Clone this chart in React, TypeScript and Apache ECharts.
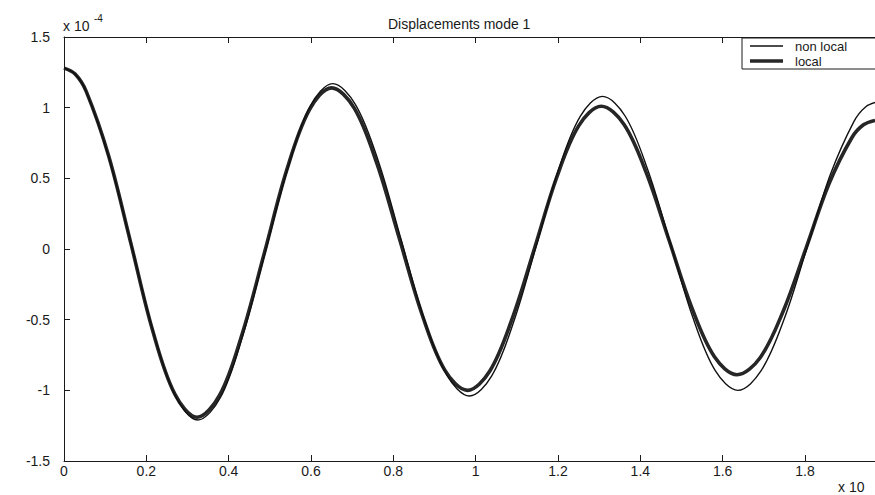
import React, { useEffect, useRef } from "react";
import * as echarts from "echarts";

// Displacement (x 10^-4) against position (x 10^?) for mode 1
const nonLocalX = [
  0, 0.027, 0.054, 0.108, 0.163, 0.217, 0.271, 0.325,
  0.38, 0.434, 0.489, 0.544, 0.598, 0.653,
  0.708, 0.764, 0.819, 0.874, 0.93, 0.985,
  1.039, 1.093, 1.147, 1.2, 1.254, 1.308,
  1.363, 1.418, 1.473, 1.527, 1.582, 1.637,
  1.693, 1.75, 1.806, 1.862, 1.919, 1.947, 1.975,
];
const nonLocalY = [
  1.28, 1.238, 1.113, 0.658, 0.035, -0.588, -1.043, -1.21,
  -1.051, -0.615, -0.02, 0.575, 1.011, 1.17,
  1.022, 0.618, 0.065, -0.488, -0.892, -1.04,
  -0.898, -0.51, 0.02, 0.55, 0.938, 1.08,
  0.941, 0.56, 0.04, -0.48, -0.861, -1.0,
  -0.863, -0.49, 0.02, 0.53, 0.903, 1.005, 1.04,
];

const localX = [
  0, 0.027, 0.054, 0.108, 0.162, 0.215, 0.269, 0.323,
  0.378, 0.432, 0.487, 0.541, 0.596, 0.65,
  0.705, 0.76, 0.815, 0.87, 0.925, 0.98,
  1.034, 1.088, 1.143, 1.197, 1.251, 1.305,
  1.36, 1.415, 1.47, 1.525, 1.58, 1.635,
  1.691, 1.747, 1.803, 1.858, 1.914, 1.942, 1.97,
];
const localY = [
  1.28, 1.238, 1.115, 0.663, 0.045, -0.573, -1.025, -1.19,
  -1.034, -0.608, -0.025, 0.558, 0.984, 1.14,
  0.997, 0.605, 0.07, -0.465, -0.857, -1.0,
  -0.865, -0.498, 0.005, 0.508, 0.875, 1.01,
  0.883, 0.535, 0.06, -0.415, -0.763, -0.89,
  -0.769, -0.44, 0.01, 0.46, 0.789, 0.879, 0.91,
];

const seriesNames = ["non local", "local"];
const titleText = "Displacements mode 1";

const FONT = "'Liberation Sans', Arial, Helvetica, sans-serif";
const INK = "#1a1a1a";
const THIN = { color: "#111111", width: 1.4 };
const THICK = { color: "#262626", width: 3.6 };

// visible part of the position axis (the right-hand frame falls outside the page)
const X_MIN = 0;
const X_MAX = 1.97;

const pairs = (xs: number[], ys: number[]) => xs.map((x, i) => [x, ys[i]]);

export default function App() {
  const ref = useRef<HTMLDivElement>(null);

  useEffect(() => {
    if (!ref.current) return;
    const chart = echarts.init(ref.current, null, { renderer: "svg" });

    const axisCommon = {
      type: "value" as const,
      min: X_MIN,
      max: X_MAX,
      interval: 0.2,
      splitLine: { show: false },
      axisLine: { show: true, onZero: false, lineStyle: { color: INK, width: 1 } },
      axisTick: { show: true, inside: true, length: 6, lineStyle: { color: INK } },
    };

    // legend box in the top-right corner of the axes
    const legendBox = { x: 742, y: 38, w: 140, h: 31 };
    const legendRows = [
      { name: seriesNames[0], y: legendBox.y + 8, line: THIN },
      { name: seriesNames[1], y: legendBox.y + 23, line: THICK },
    ];

    chart.setOption({
      animation: false,
      backgroundColor: "#ffffff",
      textStyle: { fontFamily: FONT },
      title: {
        text: titleText,
        left: 383,
        top: 12,
        textStyle: { fontFamily: FONT, fontSize: 14, fontWeight: "normal", color: INK },
      },
      grid: { left: 64, right: 0, top: 37, bottom: 34, containLabel: false },
      xAxis: [
        {
          ...axisCommon,
          position: "bottom",
          axisLabel: {
            show: true,
            margin: 3,
            showMaxLabel: false,
            fontFamily: FONT,
            fontSize: 14,
            color: INK,
            formatter: (v: number) => (v > 1.9 ? "" : String(Math.round(v * 10) / 10)),
          },
        },
        {
          ...axisCommon,
          position: "top",
          axisLabel: { show: false },
        },
      ],
      yAxis: {
        type: "value",
        min: -1.5,
        max: 1.5,
        interval: 0.5,
        splitLine: { show: false },
        axisLine: { show: true, onZero: false, lineStyle: { color: INK, width: 1 } },
        axisTick: { show: true, inside: true, length: 6, lineStyle: { color: INK } },
        axisLabel: { margin: 14, fontFamily: FONT, fontSize: 14, color: INK },
      },
      graphic: [
        {
          type: "text",
          left: 63,
          top: 19,
          style: { text: "x 10", font: `14px ${FONT}`, fill: INK },
        },
        {
          type: "text",
          left: 94,
          top: 13,
          style: { text: "-4", font: `10px ${FONT}`, fill: INK },
        },
        {
          type: "text",
          left: 838,
          top: 480,
          style: { text: "x 10", font: `14px ${FONT}`, fill: INK },
        },
        {
          type: "rect",
          shape: { x: legendBox.x, y: legendBox.y, width: legendBox.w, height: legendBox.h },
          style: { fill: "#ffffff", stroke: INK, lineWidth: 1 },
          z: 10,
        },
        ...legendRows.flatMap((row) => [
          {
            type: "line",
            shape: { x1: legendBox.x + 8, y1: row.y, x2: legendBox.x + 41, y2: row.y },
            style: { stroke: row.line.color, lineWidth: row.line.width },
            z: 11,
          },
          {
            type: "text",
            x: legendBox.x + 53,
            y: row.y,
            style: {
              text: row.name,
              font: `13px ${FONT}`,
              fill: INK,
              verticalAlign: "middle",
            },
            z: 11,
          },
        ]),
      ],
      series: [
        {
          name: seriesNames[1],
          type: "line",
          xAxisIndex: 0,
          data: pairs(localX, localY),
          smooth: 0.35,
          showSymbol: false,
          symbol: "none",
          z: 2,
          lineStyle: THICK,
        },
        {
          name: seriesNames[0],
          type: "line",
          xAxisIndex: 0,
          data: pairs(nonLocalX, nonLocalY),
          smooth: 0.35,
          showSymbol: false,
          symbol: "none",
          z: 3,
          lineStyle: THIN,
        },
      ],
    });

    return () => chart.dispose();
  }, []);

  return (
    <div
      ref={ref}
      style={{ position: "fixed", left: 0, top: 0, width: 875, height: 495, background: "#fff" }}
    />
  );
}
